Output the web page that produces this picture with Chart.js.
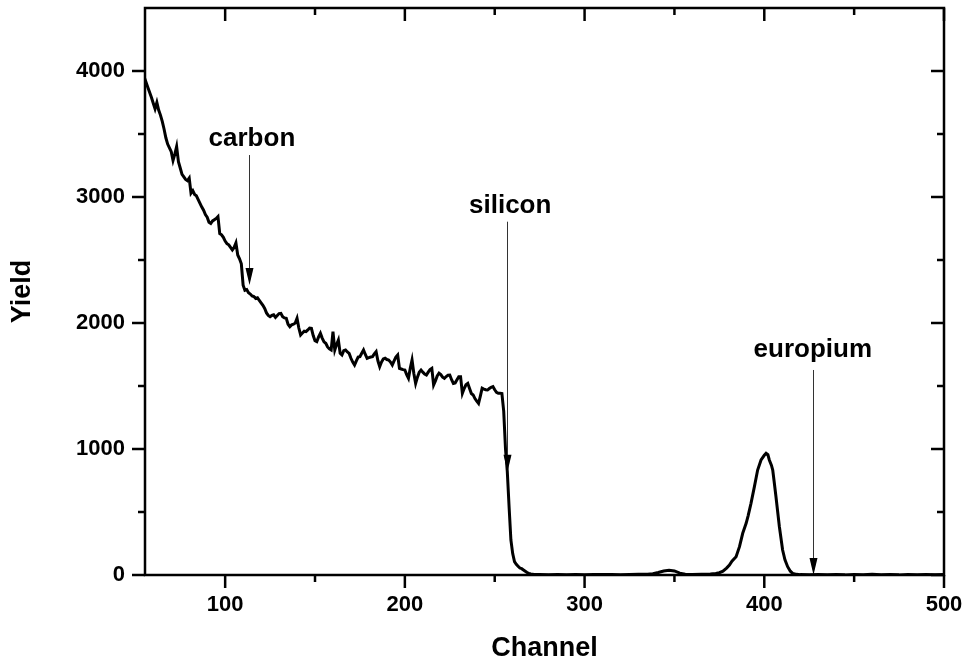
<!DOCTYPE html>
<html>
<head>
<meta charset="utf-8">
<script src="https://cdn.jsdelivr.net/npm/chart.js@4.4.1/dist/chart.umd.min.js"></script>
<style>
  html, body { margin: 0; padding: 0; background: #fff; }
  #wrap { width: 965px; height: 662px; }
</style>
</head>
<body>
<div id="wrap"><canvas id="spec"></canvas></div>
<script>
// spectrum
const channels = [
  55, 57, 59, 60, 61, 62, 63, 64, 65, 66, 67, 68, 69, 70, 71, 72, 73, 74, 75, 76, 77, 78, 79, 80,
  81, 82, 83, 84, 85, 86, 87, 88, 89, 90, 91, 92, 93, 94, 95, 96, 97, 98, 99, 100,
  101, 102, 103, 104, 105, 106, 107, 108, 109, 110, 111, 112, 113, 114, 115, 116, 117, 118, 119, 120,
  121, 122, 123, 124, 125, 126, 127, 128, 129, 130, 131, 132, 133, 134, 135, 136, 137, 138, 139, 140,
  141, 142, 143, 144, 145, 146, 147, 148, 149, 150, 151, 152, 153, 154, 155, 156, 157, 158, 159, 160,
  161, 162, 163, 164, 165, 166, 167, 168, 169, 170, 171, 172, 173, 174, 175, 176, 177, 178, 179, 180,
  181, 182, 183, 184, 185, 186, 187, 188, 189, 190, 191, 192, 193, 194, 195, 196, 197, 198, 199, 200,
  201, 202, 203, 204, 205, 206, 207, 208, 209, 210, 211, 212, 213, 214, 215, 216, 217, 218, 219, 220,
  221, 222, 223, 224, 225, 226, 227, 228, 229, 230, 231, 232, 233, 234, 235, 236, 237, 238, 239, 240,
  241, 242, 243, 244, 245, 246, 247, 248, 249, 250, 251, 252, 253, 254, 255, 256, 257, 258, 259, 260,
  261, 262, 263, 264, 265, 266, 267, 268, 269, 270, 272, 275, 280, 285, 290, 295, 300, 305, 310, 315,
  320, 325, 330, 335, 338, 341, 344, 347, 350, 353, 356, 360, 365, 370, 373, 375, 377, 379, 380.6, 382,
  384.3, 386.2, 388, 389.9, 391, 392.6, 394.5, 396.3, 398.2, 400, 401, 402, 402.8, 404, 404.7, 405.5, 406.5, 408.4, 410.2, 411.5,
  413, 414.5, 415.8, 418, 420, 425, 430, 435, 440, 445, 450, 455, 460, 465, 470, 475, 480, 485, 490, 495, 500
];
const yields = [
  3950, 3870, 3790, 3744, 3700, 3750, 3690, 3650, 3600, 3540, 3470, 3420, 3390, 3360, 3290, 3340, 3400, 3280, 3230, 3180, 3160, 3140, 3130, 3150,
  3030, 3050, 3020, 3010, 2980, 2950, 2920, 2895, 2860, 2840, 2800, 2790, 2810, 2820, 2830, 2845, 2710, 2700, 2680, 2650,
  2630, 2620, 2600, 2580, 2600, 2635, 2540, 2510, 2470, 2300, 2260, 2265, 2240, 2230, 2215, 2210, 2195, 2200, 2180, 2160,
  2140, 2115, 2080, 2060, 2050, 2060, 2065, 2045, 2060, 2075, 2077, 2050, 2040, 2037, 1990, 1971, 1985, 1990, 2000, 2037,
  1960, 1905, 1920, 1935, 1931, 1945, 1960, 1958, 1900, 1860, 1852, 1890, 1918, 1880, 1850, 1839, 1810, 1795, 1786, 1931,
  1786, 1830, 1865, 1760, 1746, 1780, 1786, 1770, 1759, 1720, 1690, 1667, 1700, 1730, 1733, 1760, 1786, 1750, 1720, 1725,
  1730, 1733, 1755, 1772, 1700, 1653, 1690, 1715, 1720, 1710, 1706, 1690, 1667, 1700, 1730, 1746, 1640, 1635, 1630, 1627,
  1590, 1561, 1640, 1706, 1600, 1521, 1570, 1610, 1627, 1610, 1595, 1587, 1610, 1630, 1640, 1508, 1540, 1580, 1601, 1590,
  1570, 1561, 1575, 1585, 1587, 1550, 1521, 1525, 1550, 1574, 1574, 1442, 1480, 1510, 1521, 1480, 1440, 1429, 1400, 1380,
  1362, 1420, 1482, 1475, 1470, 1468, 1480, 1490, 1495, 1470, 1450, 1442, 1442, 1440, 1300, 1000, 820, 540, 278, 170,
  106, 85, 70, 55, 50, 40, 30, 20, 13, 8, 4, 3, 2, 4, 2, 3, 2, 3, 4, 3,
  2, 4, 5, 6, 10, 20, 32, 38, 32, 15, 6, 4, 6, 8, 12, 18, 30, 55, 79, 110,
  145, 225, 331, 410, 470, 569, 701, 833, 913, 950, 966, 955, 913, 870, 833, 740, 621, 383, 198, 120,
  66, 30, 13, 5, 3, 2, 4, 2, 3, 1, 4, 2, 5, 2, 3, 1, 4, 2, 3, 2, 3
];

const xMajor = [100, 200, 300, 400, 500];
const xMinor = [150, 250, 350, 450];
const yMajor = [0, 1000, 2000, 3000, 4000];
const yMinor = [500, 1500, 2500, 3500];

// annotations: label, arrow channel, label channel, label baseline, arrow top, arrow tip
const annoLabels   = ['carbon', 'silicon', 'europium'];
const annoArrowCh  = [113.2, 256.8, 426.9];
const annoTextCh   = [114.9, 258.6, 427];
const annoTextY    = [3405, 2873, 1733];
const annoTopY     = [3333, 2804, 1627];
const annoTipY     = [2302, 820, 0];

const FONT = 'Arial, "Liberation Sans", sans-serif';

const noPad = s => { s.paddingTop = 0; s.paddingBottom = 0; s.paddingLeft = 0; s.paddingRight = 0; };

const frame = {
  id: 'frame',
  afterDatasetsDraw(chart) {
    const { ctx, chartArea: a, scales: { x, y } } = chart;
    const seg = (x1, y1, x2, y2) => { ctx.beginPath(); ctx.moveTo(x1, y1); ctx.lineTo(x2, y2); ctx.stroke(); };
    ctx.save();
    ctx.strokeStyle = '#000';
    ctx.lineWidth = 2.5;
    ctx.strokeRect(a.left, a.top, a.right - a.left, a.bottom - a.top);
    xMajor.forEach(v => { const p = x.getPixelForValue(v); seg(p, a.bottom, p, a.bottom + 13); seg(p, a.top, p, a.top + 13); });
    xMinor.forEach(v => { const p = x.getPixelForValue(v); seg(p, a.bottom, p, a.bottom + 7); seg(p, a.top, p, a.top + 7); });
    yMajor.forEach(v => { const p = y.getPixelForValue(v); seg(a.left - 13, p, a.left, p); seg(a.right - 13, p, a.right, p); });
    yMinor.forEach(v => { const p = y.getPixelForValue(v); seg(a.left - 7, p, a.left, p); seg(a.right - 7, p, a.right, p); });

    // arrows + labels
    ctx.fillStyle = '#000';
    ctx.font = 'bold 26px ' + FONT;
    ctx.textAlign = 'center';
    ctx.textBaseline = 'alphabetic';
    annoLabels.forEach((t, i) => {
      ctx.fillText(t, x.getPixelForValue(annoTextCh[i]), y.getPixelForValue(annoTextY[i]));
      const ax = Math.round(x.getPixelForValue(annoArrowCh[i])) + 0.5;
      const top = y.getPixelForValue(annoTopY[i]);
      const tip = y.getPixelForValue(annoTipY[i]);
      ctx.strokeStyle = '#333';
      ctx.lineWidth = 1;
      seg(ax, top, ax, tip - 10);
      ctx.beginPath();
      ctx.moveTo(ax, tip);
      ctx.lineTo(ax - 4, tip - 17);
      ctx.lineTo(ax + 4, tip - 17);
      ctx.closePath();
      ctx.fill();
    });
    ctx.restore();
  }
};

new Chart(document.getElementById('spec'), {
  type: 'line',
  data: {
    datasets: [{
      data: channels.map((c, i) => ({ x: c, y: yields[i] })),
      borderColor: '#000',
      borderWidth: 3,
      pointRadius: 0,
      tension: 0,
      fill: false
    }]
  },
  options: {
    responsive: true,
    maintainAspectRatio: false,
    animation: false,
    layout: { padding: { top: 8, right: 21, left: 0, bottom: 0 } },
    plugins: { legend: { display: false }, tooltip: { enabled: false } },
    scales: {
      x: {
        type: 'linear',
        min: 55.4,
        max: 500,
        afterBuildTicks: s => { s.ticks = xMajor.map(v => ({ value: v })); },
        afterFit: s => { s.height = 87; noPad(s); },
        grid: { display: false, drawTicks: false },
        border: { display: false },
        ticks: { color: '#000', padding: 17, maxRotation: 0, font: { family: FONT, size: 22, weight: 'bold' }, callback: v => String(v) },
        title: { display: true, text: 'Channel', color: '#000', padding: { top: 0, bottom: 0 }, font: { family: FONT, size: 27, weight: 'bold', lineHeight: 1 } }
      },
      y: {
        min: 0,
        max: 4500,
        afterBuildTicks: s => { s.ticks = yMajor.map(v => ({ value: v })); },
        afterFit: s => { s.width = 145; noPad(s); },
        grid: { display: false, drawTicks: false },
        border: { display: false },
        ticks: { color: '#000', padding: 20, font: { family: FONT, size: 22, weight: 'bold' }, callback: v => String(v) },
        title: { display: true, text: 'Yield', color: '#000', padding: { top: 9, bottom: 0 }, font: { family: FONT, size: 27, weight: 'bold', lineHeight: 1 } }
      }
    }
  },
  plugins: [frame]
});
</script>
</body>
</html>
